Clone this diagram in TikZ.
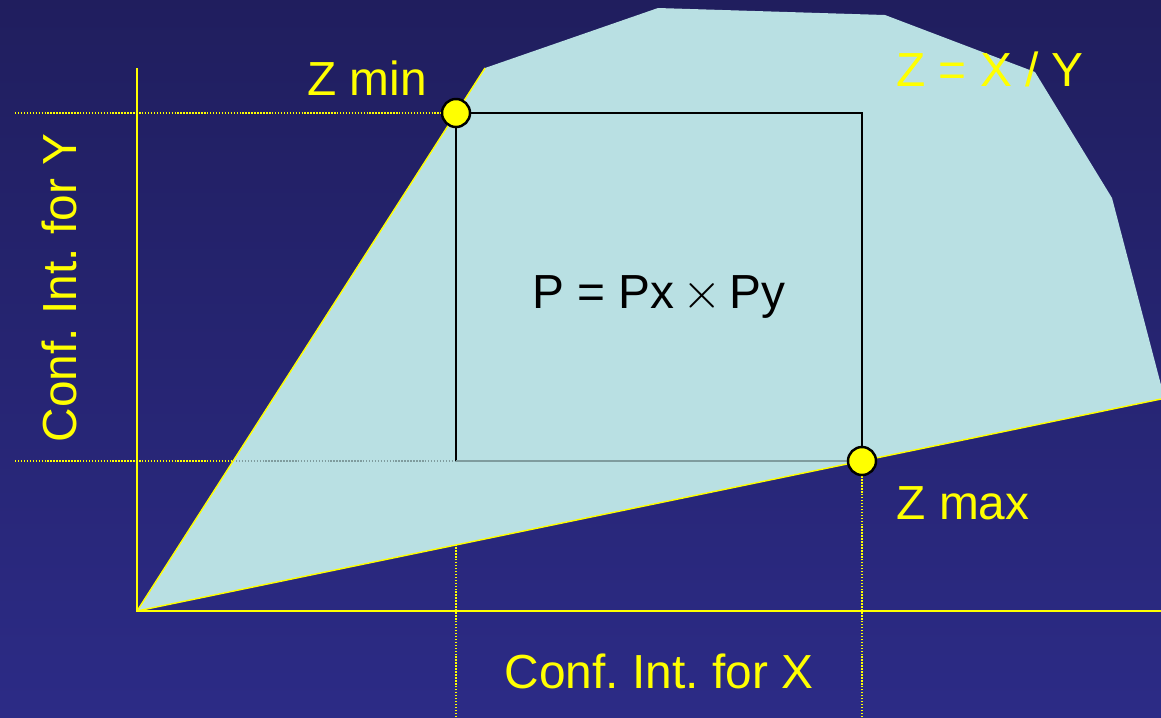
\documentclass[tikz,border=0pt]{standalone}
\usepackage{fontspec}
\setmainfont{Liberation Sans}
\usepackage{tikz}
\usetikzlibrary{positioning}
\definecolor{slidetop}{HTML}{201E5E}
\definecolor{slidebottom}{HTML}{2C2B86}
\definecolor{regionfill}{HTML}{B9E0E3}
\definecolor{hiyellow}{HTML}{FFFF00}
\definecolor{edgegrey}{HTML}{7F9C9E}

\tikzset{
  axisline/.style={draw=hiyellow, line width=0.55pt},
  edgeline/.style={draw=hiyellow, line width=0.4pt},
  guideline/.style={draw=hiyellow, line width=0.45pt, dash pattern=on 0.42pt off 0.42pt},
  bound/.style={circle, draw=black, fill=hiyellow, line width=0.7pt, minimum size=0.28cm, inner sep=0pt},
  lbl/.style={text=hiyellow, font=\fontsize{13.6}{16}\selectfont\frenchspacing, inner sep=0pt, anchor=base},
}

\begin{document}
\begin{tikzpicture}[x=0.01cm, y=-0.01cm]
\shade[top color=slidetop, bottom color=slidebottom] (0,0) rectangle (1161,717);
\useasboundingbox (0,0) rectangle (1161,717);

\coordinate (o) at (137,611);
\coordinate (pmin) at (456,113);
\coordinate (pmax) at (862,461);

% guides to the axes
\draw[guideline] (15,113) -- (pmin);
\draw[guideline] (15,461) -- (456,461);
\draw[guideline] (456,717) -- (456,461);
\draw[guideline] (862,717) -- (pmax);

% region of Z
\fill[regionfill] (o) -- (485,68) -- (658,8) -- (885,15) -- (1035,72)
  -- (1112,198) -- (1161,385) -- (1161,399) -- cycle;
\draw[guideline, draw=edgegrey] (233,461) -- (456,461);
\draw[edgeline] (o) -- (485,68);
\draw[edgeline] (o) -- (1161,399);

% axes
\draw[axisline] (137,68) -- (o) -- (1161,611);

% box Px x Py
\draw[black, line width=0.4pt] (456,461) -- (pmin) -- (862,113) -- (pmax);
\draw[edgegrey, line width=0.4pt] (456,461) -- (pmax);

\node[bound] (zmin) at (pmin) {};
\node[bound] (zmax) at (pmax) {};

\node[lbl] (zminlbl) at (367,95) {Z min};
\node[lbl] (zmaxlbl) at (963,519) {Z max};
\node[lbl] (ratio) at (990,86) {Z = X / Y};
\node[lbl, text=black] (prob) at (659,308) {P = Px\,$\times$\,Py};
\node[lbl] (xlbl) at (659,688) {Conf. Int. for X};
\node[lbl, rotate=90] (ylbl) at (77,288) {Conf. Int. for Y};
\end{tikzpicture}
\end{document}
